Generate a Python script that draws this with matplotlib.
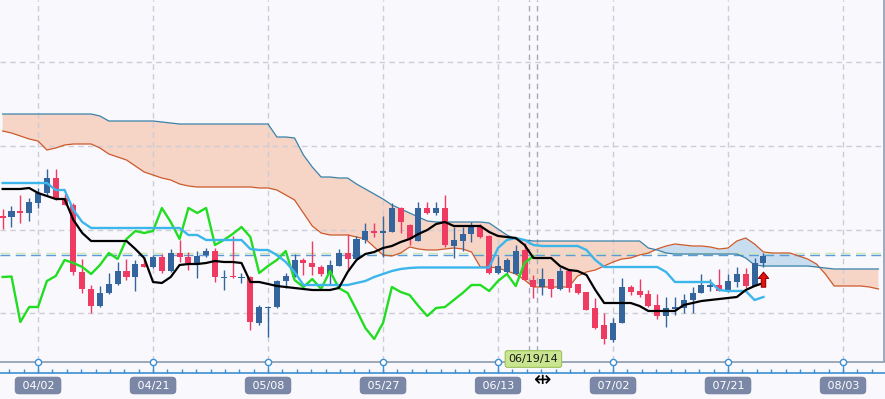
import matplotlib
matplotlib.use('Agg')
import matplotlib.pyplot as plt
import numpy as np
from matplotlib.path import Path

# bar index: 0 = 04/02, candles run from bar -4 to bar 82
bar_start = -4
open_ = [184, 183, 189, 187, 197, 207, 222, 202, 195, 128,      # -4..5
         111, 94, 107, 116, 129, 123, 136, 133, 143, 129,       # 6..15
         147, 143, 137, 145, 149, 122.5, 124, 122.5, 123, 77,   # 16..25
         92, 93, 119, 123, 140, 137, 133, 126, 134, 147,        # 26..35
         141, 160, 169, 167, 168, 192, 175, 159, 192, 187,      # 36..45
         192, 154, 159, 166, 173, 164, 127, 128, 126, 150,      # 46..55
         120, 113, 121, 111, 129, 116, 108, 92, 75, 60,         # 56..65
         77, 113, 109, 106, 95, 84, 91, 92, 100, 107,           # 66..75
         113, 115, 109, 118, 126, 114, 137]                     # 76..82
high = [191, 194, 205, 202, 212, 231, 231, 206, 197, 141,
        115, 114, 127, 138, 141, 140, 143, 145, 146, 151,
        160, 148, 149, 152, 152, 130, 164, 127, 124, 95,
        94, 120, 127, 146, 142, 159, 135, 140, 151, 166,
        164, 177, 177, 184, 197, 193, 176, 198, 198, 198,
        205, 173, 173, 178, 176, 165, 144, 142, 155, 157,
        125, 132, 121, 133, 129, 116, 108, 102, 87, 82,
        122, 115, 121, 110, 106, 103, 103, 106, 113, 126,
        121, 131, 126, 133, 132, 142, 147]
low = [171, 173, 177, 179, 192, 205, 200, 195, 125, 107,
       87, 93, 106, 115, 120, 109, 133, 132, 127, 128,
       138, 130, 122, 143, 118, 110, 122, 117, 70, 75,
       63, 92, 112, 123, 125, 125, 124, 116, 134, 130,
       140, 157, 163, 143, 168, 167, 155, 159, 186, 185,
       153, 142, 149, 158, 162, 126, 126, 126, 126, 120,
       102, 105, 103, 110, 108, 106, 90, 71, 56, 58,
       77, 105, 103, 93, 81, 73, 85, 87, 87, 107,
       109, 109, 108, 113, 112, 114, 133]
close = [182, 189, 187, 198, 207, 222, 202, 195, 128, 111,
         94, 107, 116, 129, 123, 136, 133, 143, 129, 147,
         143, 137, 144, 149, 123, 123.5, 123, 123.5, 78, 93,
         93, 119, 124, 140, 137, 133, 126, 135, 147, 141,
         161, 169, 167, 169, 192, 178, 161, 192, 187, 192,
         155, 160, 166, 173, 163, 127, 134, 140, 149, 120,
         113, 121, 111, 129, 112, 107, 90, 72, 61, 77,
         113, 108, 105, 94, 84, 92, 93, 100, 107, 115,
         115, 109, 119, 126, 114, 137, 144]

tenkan = [211, 211, 211, 212, 207, 204, 201, 201, 180, 167,
          159, 159, 159, 159, 159, 151, 142, 118, 117, 123,
          135, 136, 136, 137, 139, 138, 138, 137, 118, 118,
          116, 114, 113, 112, 111, 110, 110, 110, 112, 128,
          140, 146, 148, 152, 154, 158, 161, 166, 170, 176,
          178, 174, 174, 174, 174, 168, 164, 163, 162, 155,
          142, 142, 142, 134, 130, 129, 125, 110, 97, 97,
          97, 97, 94, 89, 89, 89, 89, 95, 97, 99,
          100, 101, 102, 103, 110, 114, 117]
kijun = [217, 217, 217, 217, 217, 217, 210, 210, 190, 178,
         172, 172, 172, 172, 172, 172, 172, 172, 172, 172,
         172, 165, 165, 160, 160, 160, 160, 160, 151, 150,
         150, 145, 138, 128, 115, 115, 115, 115, 115, 115,
         117, 119, 123, 126, 129, 131, 132, 132.5, 132.5, 132.5,
         132.5, 132.5, 132.5, 132.5, 132.5, 132.5, 152, 160, 162, 160,
         155, 154, 154, 154, 154, 154, 150, 140, 133, 133,
         133, 133, 133, 133, 133, 128, 118, 118, 118, 118,
         118, 110, 109, 109, 109, 100, 103]

# leading spans, projected 26 bars ahead: bars -4 .. 95
senkou_a = [269, 267, 264, 261, 259, 250, 252, 255, 256, 256,
            256, 252, 246, 243, 240, 234, 228, 225, 222, 220,
            216, 214, 213, 213, 213, 213, 213, 213, 213, 212,
            212, 210, 205, 200, 187, 174, 167, 165, 165, 165,
            163, 161, 153, 145, 144, 147, 153, 151, 150, 150,
            151, 152, 151, 148, 133, 133, 132, 129, 126, 120,
            113, 113, 113, 113, 113, 124, 128, 130, 134, 138,
            141, 142, 145, 147, 151, 154, 156, 155, 154, 154,
            153, 151, 152, 159, 162, 156, 148, 147, 147, 147,
            144, 141, 136, 126, 114, 114, 114, 114, 113, 111]
senkou_b = [286, 286, 286, 286, 286, 286, 286, 286, 286, 286,
            286, 284, 279, 279, 279, 279, 279, 279, 278, 277,
            276, 276, 276, 276, 276, 276, 276, 276, 276, 276,
            276, 263, 263, 262, 245, 233, 223, 223, 222, 222,
            216, 211, 206, 201, 195, 191, 187, 183, 179, 178,
            178, 178, 178, 178, 178, 177, 171, 165, 161, 160,
            159, 159, 159, 159, 159, 159, 159, 159, 159, 159,
            159, 159, 159, 152, 150, 147, 146, 146, 146, 146,
            146, 146, 146, 146, 142, 135, 134, 134, 134, 134,
            134, 134, 133, 132, 131, 131, 131, 131, 131, 131]

tick_pos = [0, 13, 26, 39, 52, 65, 78, 91]
tick_labels = ['04/02', '04/21', '05/08', '05/27', '06/13', '07/02', '07/21', '08/03']
grid_levels = [87, 170.5, 254, 338]
cursor_bar = 56
cursor_label = '06/19/14'
last_price = 145.5
ref_price = 147.5

UP = '#35659d'
DOWN = '#ef3a62'
BG = '#f8f8fd'
AXIS_BLUE = '#3d8fd1'

x = np.arange(bar_start, bar_start + len(close))
xs = np.arange(bar_start, bar_start + len(senkou_a))
o = np.array(open_, float)
c = np.array(close, float)
sa = np.array(senkou_a, float)
sb = np.array(senkou_b, float)

x_left = -4.3
bar_px = 8.846

fig = plt.figure(figsize=(8.85, 3.99), dpi=100)
fig.patch.set_facecolor(BG)
ax = fig.add_axes([0, 38 / 399, 883.5 / 885, 361 / 399])
ax.set_facecolor(BG)
ax.set_xlim(x_left, x_left + 883.5 / bar_px)
ax.set_ylim(39, 400)

ax.set_xticks(tick_pos)
ax.set_yticks(grid_levels)
ax.grid(True, color='#cdcdd6', linestyle=(0, (4, 3)), linewidth=1, zorder=0)
ax.tick_params(labelbottom=False, labelleft=False, length=0)
for side in ['top', 'left', 'bottom']:
    ax.spines[side].set_visible(False)
ax.spines['right'].set_color('#8d9db2')
ax.spines['right'].set_linewidth(1.2)

# cloud
ax.fill_between(xs, sa, sb, where=sb >= sa, interpolate=True, color='#f6d4c6', lw=0, zorder=1)
ax.fill_between(xs, sa, sb, where=sa > sb, interpolate=True, color='#c8ddef', lw=0, zorder=1)
ax.plot(xs, sa, color='#cc5a2a', lw=0.9, zorder=2)
ax.plot(xs, sb, color='#3b82aa', lw=0.9, zorder=2)

# cursor and price lines
for dx in (-0.45, 0.45):
    ax.axvline(cursor_bar + dx, color='#a9a9b5', linestyle=(0, (4, 3)), lw=1, zorder=1.5)
ax.axhline(ref_price, color='#cfe6b6', linestyle=(0, (7, 4)), lw=1, zorder=1.5)
ax.axhline(last_price, color='#5a9ad6', linestyle=(0, (7, 4)), lw=1, zorder=1.5)

# candles
colors = np.where(c >= o, UP, DOWN)
ax.vlines(x, low, high, colors=colors, lw=1, zorder=3)
ax.bar(x, c - o, bottom=o, width=0.68, color=colors, lw=0, zorder=3.5)

# ichimoku lines
ax.plot(x[26:] - 26, c[26:], color='#22dd22', lw=1.7, zorder=4)
ax.plot(x, kijun, color='#3cb6ea', lw=1.7, zorder=4)
ax.plot(x, tenkan, color='black', lw=1.6, zorder=4.5)

# signal arrow on last bar
arrow = Path([(0, 1), (0.62, 0.25), (0.26, 0.25), (0.26, -0.8), (-0.26, -0.8),
              (-0.26, 0.25), (-0.62, 0.25), (0, 1)], closed=True)
ax.plot([x[-1]], [120.5], marker=arrow, ms=12, mfc='#e01212', mec='#9a0000', mew=0.8, zorder=6)

# date axis strip
ax2 = fig.add_axes([0, 0, 1, 38 / 399])
ax2.set_xlim(x_left, x_left + 885 / bar_px)
ax2.set_ylim(0, 38)
ax2.axis('off')
ax2.axhline(37.3, color='#8c9aac', lw=1.2)
ax2.axhline(26, color=AXIS_BLUE, lw=1.2)
ax2.vlines(np.arange(-3.25, 96, 13 / 8), 26, 30, color=AXIS_BLUE, lw=1)
ax2.vlines(tick_pos, 26, 37.3, color=AXIS_BLUE, lw=1)
ax2.plot(tick_pos, [37.3] * len(tick_pos), 'o', mfc='white', mec=AXIS_BLUE, ms=4.5, mew=1, clip_on=False)
for p, lab in zip(tick_pos, tick_labels):
    ax2.text(p, 13.5, ' ' + lab + ' ', ha='center', va='center', color='white', fontsize=8,
             bbox=dict(boxstyle='round,pad=0.3,rounding_size=0.35', fc='#7a87a6', ec='#6f7b99', lw=0.6))
ax2.text(cursor_bar, 40, cursor_label, ha='center', va='center', color='#1a1a1a', fontsize=8,
         clip_on=False, zorder=10,
         bbox=dict(boxstyle='round,pad=0.3,rounding_size=0.2', fc='#c9e58f', ec='#9fc25c', lw=0.8))
ax2.text(cursor_bar + 1, 19, '\u21f9', ha='center', va='center', color='black', fontsize=15)

fig.savefig('out.png', dpi=100, facecolor=BG)
